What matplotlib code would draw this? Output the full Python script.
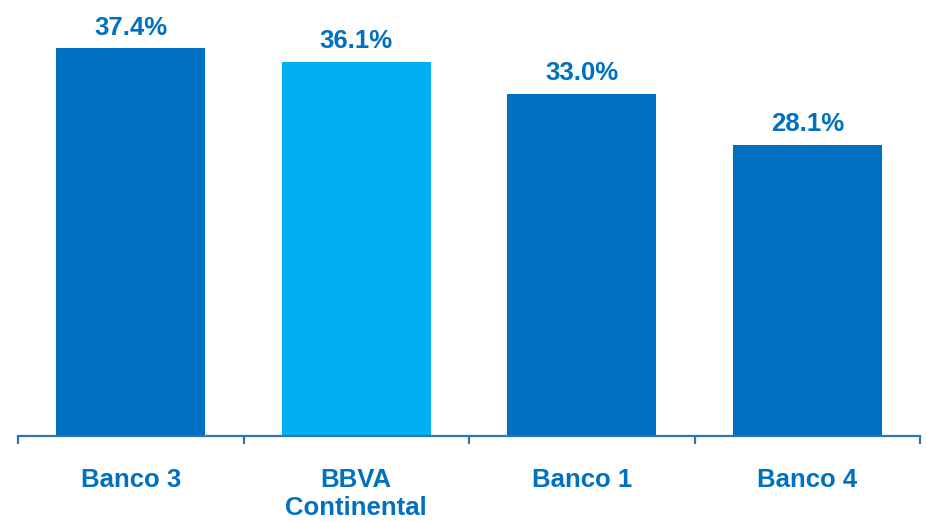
import matplotlib.pyplot as plt
import numpy as np

categories = ['Banco 3', 'BBVA\nContinental', 'Banco 1', 'Banco 4']
values = [37.4, 36.1, 33.0, 28.1]
colors = ['#0070C0', '#00B0F0', '#0070C0', '#0070C0']

plt.rcParams['font.family'] = ['Liberation Sans', 'DejaVu Sans']

fig = plt.figure(figsize=(9.26, 5.22), dpi=100)
ax = fig.add_axes([18 / 926, 86 / 522, 902 / 926, 436 / 522])

x = np.arange(len(categories))
bars = ax.bar(x, values, width=0.66, color=colors, zorder=2)

for b, v in zip(bars, values):
    ax.annotate(f'{v:.1f}%', (b.get_x() + b.get_width() / 2, v),
                xytext=(0, 6), textcoords='offset points',
                ha='center', va='bottom', fontsize=18.5, fontweight='bold',
                color='#0070C0')

ax.set_xlim(-0.5, len(categories) - 0.5)
ax.set_ylim(0, 42.04)

for s in ['top', 'right', 'left']:
    ax.spines[s].set_visible(False)
ax.spines['bottom'].set_color('#2E75B6')
ax.spines['bottom'].set_linewidth(1.6)
ax.set_yticks([])

ax.set_xticks(x)
ax.set_xticklabels(categories, fontsize=18.5, fontweight='bold', color='#0070C0',
                   linespacing=1.2)
ax.tick_params(axis='x', which='major', length=0, pad=23)
ax.set_xticks(np.arange(len(categories) + 1) - 0.5, minor=True)
ax.tick_params(axis='x', which='minor', length=6, width=1.6, color='#2E75B6')

fig.savefig('out.png', dpi=100)
